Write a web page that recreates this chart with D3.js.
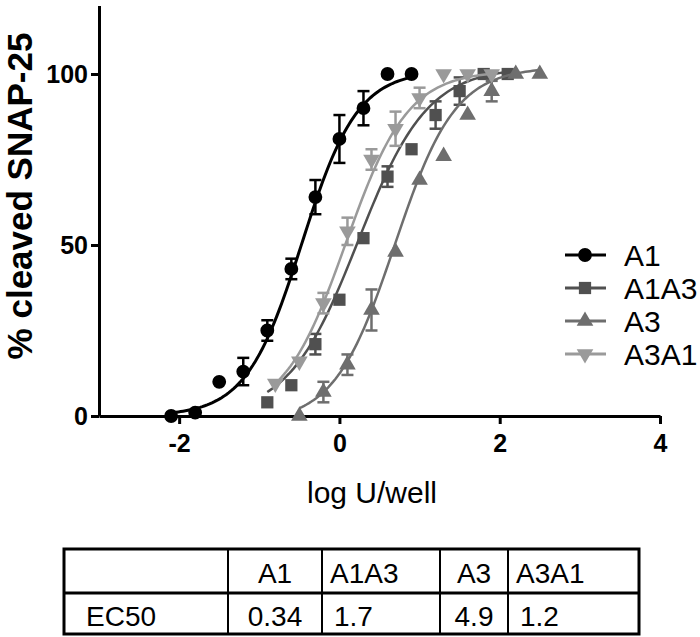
<!DOCTYPE html>
<html>
<head>
<meta charset="utf-8">
<script src="https://cdn.jsdelivr.net/npm/d3@7"></script>
<style>
  body { margin: 0; background: #fff; }
  svg { display: block; font-family: "Liberation Sans", Arial, sans-serif; }
</style>
</head>
<body>
<script>
// data (log U/well vs % cleaved SNAP-25)
const seriesNames = ["A1", "A1A3", "A3", "A3A1"];
const seriesColors = ["#000000", "#505050", "#6e6e6e", "#9a9a9a"];

const a1X = [-2.1, -1.8, -1.5, -1.2, -0.9, -0.6, -0.3, 0.0, 0.3, 0.6, 0.9];
const a1Y = [0, 1, 10, 13, 25, 43, 64, 81, 90, 100, 100];
const a1Err = [0, 0, 0, 4, 3, 3, 5, 7, 5, 0, 0];

const a1a3X = [-0.9, -0.6, -0.3, 0.0, 0.3, 0.6, 0.9, 1.2, 1.5, 1.8, 2.1];
const a1a3Y = [4, 9, 21, 34, 52, 70, 78, 88, 95, 100, 100];
const a1a3Err = [0, 0, 3, 0, 0, 3, 0, 4, 4, 0, 0];

const a3X = [-0.5, -0.2, 0.1, 0.4, 0.7, 1.0, 1.3, 1.6, 1.9, 2.2, 2.5];
const a3Y = [0, 7, 15, 31, 48, 69, 76, 88, 95, 100, 100];
const a3Err = [0, 3, 3, 6, 0, 0, 0, 0, 3, 0, 0];

const a3a1X = [-0.8, -0.5, -0.2, 0.1, 0.4, 0.7, 1.0, 1.3, 1.6, 1.9];
const a3a1Y = [9.5, 16, 33, 54, 75, 84, 93, 100, 100, 100];
const a3a1Err = [0, 0, 3, 4, 3, 5, 3, 0, 0, 0];

// table values
const ec50 = [0.34, 1.7, 4.9, 1.2];
const ec50Labels = ["0.34", "1.7", "4.9", "1.2"];
const rowLabel = "EC50";

// sigmoid fit parameters (EC50 taken from the table)
const fitBottom = [0, 0, -2, 0];
const fitTop = [101, 102, 102, 101];
const fitHill = [1.25, 1.0, 1.15, 1.12];

const xTicks = [-2, 0, 2, 4];
const yTicks = [0, 50, 100];

const w = 700, h = 637;
const fontFam = '"Liberation Sans", Arial, sans-serif';

const svg = d3.select("body").append("svg")
  .attr("width", w).attr("height", h);

const x = d3.scaleLinear().domain([-3, 4]).range([99, 660]);
const y = d3.scaleLinear().domain([0, 120]).range([416, 5.6]);

const series = [
  { name: seriesNames[0], xs: a1X, ys: a1Y, err: a1Err, sym: d3.symbolCircle, size: 150, rot: 0 },
  { name: seriesNames[1], xs: a1a3X, ys: a1a3Y, err: a1a3Err, sym: d3.symbolSquare, size: 150, rot: 0 },
  { name: seriesNames[2], xs: a3X, ys: a3Y, err: a3Err, sym: d3.symbolTriangle, size: 120, rot: 0 },
  { name: seriesNames[3], xs: a3a1X, ys: a3a1Y, err: a3a1Err, sym: d3.symbolTriangle, size: 120, rot: 180 }
];

const fitCurve = (i, v) =>
  fitBottom[i] + (fitTop[i] - fitBottom[i]) / (1 + Math.pow(10, (Math.log10(ec50[i]) - v) * fitHill[i]));

// axes
const xAxis = d3.axisBottom(x).tickValues(xTicks).tickFormat(d => String(d))
  .tickSize(8).tickSizeOuter(0).tickPadding(10);
const yAxis = d3.axisLeft(y).tickValues(yTicks).tickFormat(d => String(d))
  .tickSize(8).tickSizeOuter(0).tickPadding(3);

const gx = svg.append("g").attr("transform", "translate(0," + y(0) + ")").call(xAxis);
const gy = svg.append("g").attr("transform", "translate(" + x(-3) + ",0)").call(yAxis);

[gx, gy].forEach(g => {
  g.select(".domain").attr("stroke", "#000").attr("stroke-width", 3);
  g.selectAll(".tick line").attr("stroke", "#000").attr("stroke-width", 3);
  g.selectAll(".tick text")
    .attr("fill", "#000")
    .style("font-family", fontFam)
    .style("font-size", "25px")
    .style("font-weight", "bold");
});
gx.selectAll(".tick text").attr("dy", "0.71em");

// axis titles
svg.append("text")
  .attr("transform", "translate(32,196) rotate(-90)")
  .attr("text-anchor", "middle")
  .style("font-size", "35px").style("font-weight", "bold")
  .text("% cleaved SNAP-25");

svg.append("text")
  .attr("x", 372).attr("y", 503)
  .attr("text-anchor", "middle")
  .style("font-size", "30px")
  .text("log U/well");

// curves, error bars, points
const line = d3.line().x(d => x(d[0])).y(d => y(d[1]));

series.forEach((s, i) => {
  const col = seriesColors[i];
  const lo = d3.min(s.xs), hi = d3.max(s.xs);
  const pts = d3.range(0, 101).map(k => {
    const v = lo + (hi - lo) * k / 100;
    return [v, fitCurve(i, v)];
  });
  svg.append("path")
    .datum(pts)
    .attr("d", line)
    .attr("fill", "none")
    .attr("stroke", col)
    .attr("stroke-width", i === 0 ? 3 : 2.5);

  const g = svg.append("g");
  const d = s.xs.map((v, k) => ({ x: v, y: s.ys[k], e: s.err[k] }));

  const eb = g.selectAll(".eb").data(d.filter(p => p.e > 0)).enter().append("g")
    .attr("stroke", col).attr("stroke-width", 2.5);
  eb.append("line")
    .attr("x1", p => x(p.x)).attr("x2", p => x(p.x))
    .attr("y1", p => y(p.y - p.e)).attr("y2", p => y(p.y + p.e));
  eb.append("line")
    .attr("x1", p => x(p.x) - 6).attr("x2", p => x(p.x) + 6)
    .attr("y1", p => y(p.y - p.e)).attr("y2", p => y(p.y - p.e));
  eb.append("line")
    .attr("x1", p => x(p.x) - 6).attr("x2", p => x(p.x) + 6)
    .attr("y1", p => y(p.y + p.e)).attr("y2", p => y(p.y + p.e));

  g.selectAll(".pt").data(d).enter().append("path")
    .attr("d", d3.symbol().type(s.sym).size(s.size))
    .attr("transform", p => "translate(" + x(p.x) + "," + y(p.y) + ") rotate(" + s.rot + ")")
    .attr("fill", col);
});

// legend
const legend = svg.append("g");
series.forEach((s, i) => {
  const ly = 255 + i * 33;
  legend.append("line")
    .attr("x1", 565).attr("x2", 606).attr("y1", ly).attr("y2", ly)
    .attr("stroke", seriesColors[i]).attr("stroke-width", 3);
  legend.append("path")
    .attr("d", d3.symbol().type(s.sym).size(s.size))
    .attr("transform", "translate(585," + ly + ") rotate(" + s.rot + ")")
    .attr("fill", seriesColors[i]);
  legend.append("text")
    .attr("x", 624).attr("y", ly + 11)
    .style("font-size", "30px")
    .text(s.name);
});

// EC50 table
const colEdges = [64, 228, 322, 440, 508, 639];
const rowEdges = [549, 593, 634];
const table = svg.append("g");

table.append("rect")
  .attr("x", colEdges[0]).attr("y", rowEdges[0])
  .attr("width", colEdges[5] - colEdges[0]).attr("height", rowEdges[2] - rowEdges[0])
  .attr("fill", "none").attr("stroke", "#000").attr("stroke-width", 3);
table.append("line")
  .attr("x1", colEdges[0]).attr("x2", colEdges[5])
  .attr("y1", rowEdges[1]).attr("y2", rowEdges[1])
  .attr("stroke", "#000").attr("stroke-width", 3);
colEdges.slice(1, 5).forEach(cx => {
  table.append("line")
    .attr("x1", cx).attr("x2", cx).attr("y1", rowEdges[0]).attr("y2", rowEdges[2])
    .attr("stroke", "#000").attr("stroke-width", 2);
});

const headerBase = rowEdges[0] + 34, valueBase = rowEdges[1] + 33;
table.append("text")
  .attr("x", colEdges[0] + 22).attr("y", valueBase)
  .style("font-size", "28px")
  .text(rowLabel);

seriesNames.forEach((n, i) => {
  const left = colEdges[i + 1], right = colEdges[i + 2];
  const centred = i % 2 === 0;
  const tx = centred ? (left + right) / 2 : left + 8;
  table.append("text")
    .attr("x", tx).attr("y", headerBase)
    .attr("text-anchor", centred ? "middle" : "start")
    .style("font-size", "28px")
    .text(n);
  table.append("text")
    .attr("x", centred ? tx : left + 12).attr("y", valueBase)
    .attr("text-anchor", centred ? "middle" : "start")
    .style("font-size", "28px")
    .text(ec50Labels[i]);
});
</script>
</body>
</html>
